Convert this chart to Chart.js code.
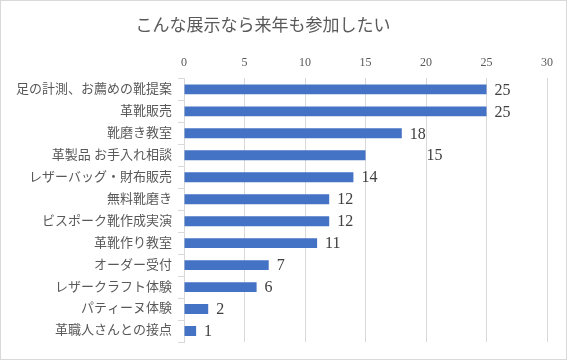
<!DOCTYPE html>
<html lang="ja">
<head>
  <meta charset="UTF-8" />
  <title>こんな展示なら来年も参加したい</title>
  <script src="https://cdn.jsdelivr.net/npm/chart.js"></script>
  <style>
    html, body { margin: 0; padding: 0; background: #fff; }
    #wrap { width: 567px; height: 360px; position: relative; }
  </style>
</head>
<body>
  <div id="wrap"><canvas id="chart" width="567" height="360"></canvas></div>

  <script>
    const chartTitle = "こんな展示なら来年も参加したい";
    const categories = [
      "足の計測、お薦めの靴提案",
      "革靴販売",
      "靴磨き教室",
      "革製品 お手入れ相談",
      "レザーバッグ・財布販売",
      "無料靴磨き",
      "ビスポーク靴作成実演",
      "革靴作り教室",
      "オーダー受付",
      "レザークラフト体験",
      "パティーヌ体験",
      "革職人さんとの接点"
    ];
    const counts = [25, 25, 18, 15, 14, 12, 12, 11, 7, 6, 2, 1];
    const xTicks = [0, 5, 10, 15, 20, 25, 30];

    const fontFamily = '"Liberation Serif", "Noto Sans CJK JP", serif';

    // bar value labels + title + frame
    const extras = {
      id: 'extras',
      afterDatasetsDraw(chart) {
        const ctx = chart.ctx;
        const meta = chart.getDatasetMeta(0);
        ctx.save();
        ctx.fillStyle = '#404040';
        ctx.font = '16px ' + fontFamily;
        ctx.textBaseline = 'middle';
        ctx.textAlign = 'left';
        meta.data.forEach((bar, i) => {
          let x = bar.x + 8;
          if (i === 3) x += 53; // label sits off to the right in the original
          ctx.fillText(String(counts[i]), x, bar.y + 1);
        });
        ctx.restore();
      },
      afterDraw(chart) {
        const ctx = chart.ctx;
        ctx.save();
        ctx.fillStyle = '#595959';
        ctx.font = '17px ' + fontFamily;
        ctx.textAlign = 'center';
        ctx.textBaseline = 'middle';
        ctx.fillText(chartTitle, 263, 27);
        ctx.strokeStyle = '#d9d9d9';
        ctx.lineWidth = 1;
        ctx.strokeRect(0.5, 0.5, chart.width - 1, chart.height - 1);
        ctx.restore();
      }
    };

    new Chart(document.getElementById('chart'), {
      type: 'bar',
      data: {
        labels: categories,
        datasets: [{
          data: counts,
          backgroundColor: '#4472C4',
          borderWidth: 0,
          categoryPercentage: 1,
          barPercentage: 0.45
        }]
      },
      options: {
        indexAxis: 'y',
        responsive: false,
        animation: false,
        layout: { padding: { left: 10, right: 20, top: 48, bottom: 18 } },
        plugins: {
          legend: { display: false },
          title: { display: false },
          tooltip: { enabled: false }
        },
        scales: {
          x: {
            position: 'top',
            min: xTicks[0],
            max: xTicks[xTicks.length - 1],
            afterBuildTicks(axis) { axis.ticks = xTicks.map(v => ({ value: v })); },
            ticks: { color: '#595959', font: { family: fontFamily, size: 12 }, padding: 8 },
            grid: { color: '#d9d9d9', drawTicks: false },
            border: { display: false }
          },
          y: {
            offset: true,
            ticks: { color: '#595959', font: { family: fontFamily, size: 13 }, padding: 6 },
            grid: { offset: true, drawOnChartArea: false, color: '#d9d9d9', tickLength: 6 },
            border: { display: true, color: '#d9d9d9' }
          }
        }
      },
      plugins: [extras]
    });
  </script>
</body>
</html>
